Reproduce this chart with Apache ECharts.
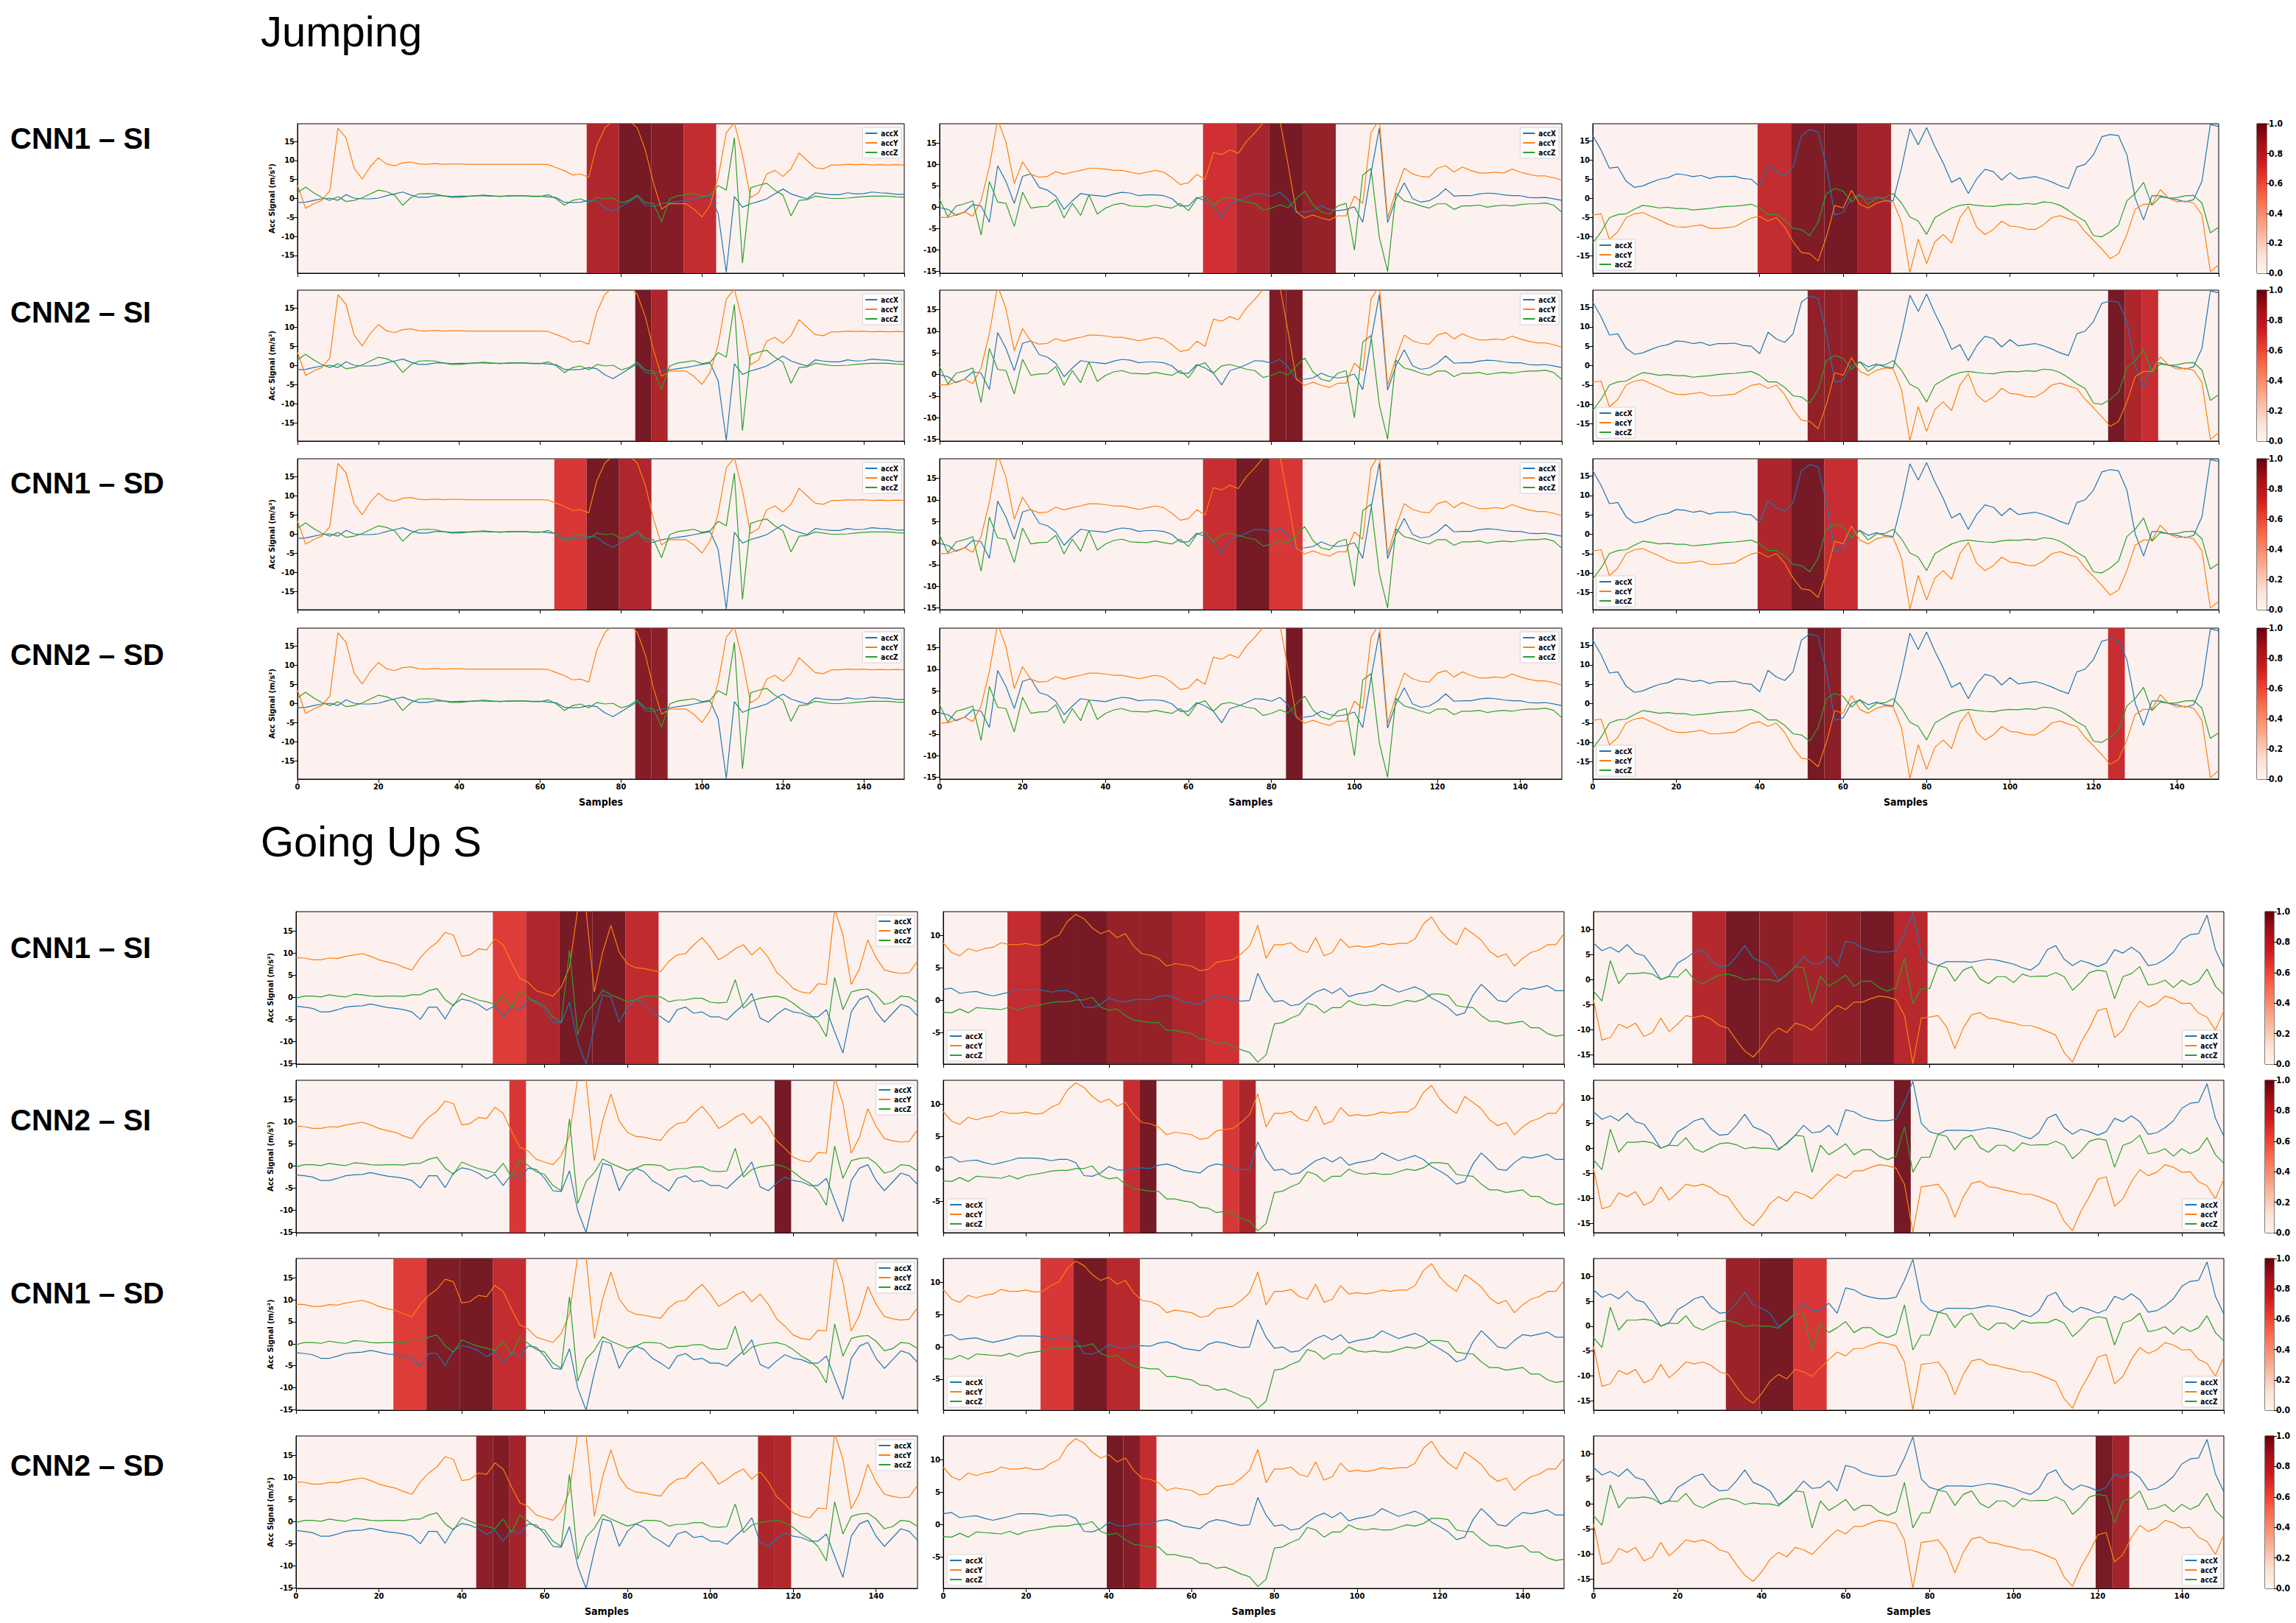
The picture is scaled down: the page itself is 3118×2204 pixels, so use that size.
<!DOCTYPE html>
<html>
<head>
<meta charset="utf-8">
<script src="https://cdn.jsdelivr.net/npm/echarts@6/dist/echarts.min.js"></script>
<style>
html, body { margin: 0; padding: 0; background: #fff; }
#chart { width: 3118px; height: 2204px; }
</style>
</head>
<body>
<div id="chart"></div>
<script>
// samples are read every 2nd index, 0..150
var SAMPLE_STEP = 2;
var channels = ['accX', 'accY', 'accZ'];
var activityTitles = ['Jumping', 'Going Up S'];
var rowLabels = ['CNN1 – SI', 'CNN2 – SI', 'CNN1 – SD', 'CNN2 – SD'];
var colorbarTicks = [0, 0.2, 0.4, 0.6, 0.8, 1.0];

// ---- Jumping, window 1
var jump1AccX = [-1.1,-1.0,-0.5,-0.1,0.1,-0.5,1.0,0.1,-0.1,-0.1,
  0.1,0.7,1.2,1.7,0.9,0.3,0.3,0.7,0.7,0.5,
  0.6,0.6,0.7,0.7,0.6,0.6,0.6,0.7,0.7,0.6,
  0.6,0.4,0.2,-1.0,-1.1,-1.0,-0.5,-0.8,-2.4,-3.4,
  -2.1,-0.8,0.5,-1.8,-2.1,-1.4,-1.1,-0.8,-0.5,-0.1,
  0.3,0.7,-4.0,-19.5,0.5,-2.3,-1.4,-0.8,-0.1,1.2,
  2.5,1.2,0.5,-0.1,1.5,1.2,1.0,1.0,1.5,1.2,
  1.3,1.7,1.5,1.4,1.1,1.1];
var jump1AccY = [3.5,-2.6,-1.4,-0.5,2.0,18.5,16.0,8.0,5.1,8.4,
  10.7,9.1,8.6,9.4,9.6,9.1,9.0,9.2,9.0,9.1,
  9.1,9.0,9.0,9.0,9.0,9.0,9.0,9.0,9.0,9.0,
  9.0,8.9,8.1,7.3,6.2,6.4,5.6,14.0,18.6,20.5,
  21.5,20.5,18.6,12.7,4.1,-2.8,-1.4,-1.4,-1.4,-2.8,
  -4.9,-1.8,5.5,17.3,20.0,11.4,0.2,1.5,6.4,7.4,
  5.8,7.8,12.0,10.0,8.1,7.8,8.8,8.8,9.0,8.9,
  9.0,8.8,8.9,8.8,8.9,8.8];
var jump1AccZ = [1.5,3.0,1.5,0.3,-0.5,0.5,-0.8,-0.5,0.2,1.2,
  2.2,1.8,0.9,-1.8,0.2,1.2,1.3,1.2,0.7,0.3,
  0.3,0.5,0.7,0.9,0.7,0.5,0.7,0.7,0.7,0.5,
  0.5,1.0,-0.1,-1.8,-0.5,-0.1,-1.1,0.3,-0.1,0.1,
  -1.1,-0.5,0.9,-1.1,-1.4,-6.1,-0.1,0.7,1.0,1.3,
  0.5,0.9,3.4,2.2,16.0,-17.0,2.8,3.5,4.0,2.2,
  0.9,-4.6,-0.5,-0.3,0.6,0.3,0.0,0.0,0.1,0.3,
  0.5,0.6,0.6,0.6,0.4,0.3];

// ---- Jumping, window 2
var jump2AccX = [-0.1,-0.5,-1.9,-1.1,0.6,0.3,-3.5,9.7,6.0,0.9,
  7.2,7.8,4.6,4.0,2.6,-0.5,1.5,3.2,2.9,2.7,
  2.5,3.1,3.5,3.3,2.7,2.9,2.9,2.7,2.0,0.3,
  0.3,2.3,1.5,0.3,-2.4,0.9,1.5,2.3,3.2,3.1,
  2.6,3.5,1.8,-1.1,-1.1,-0.8,0.3,-0.5,-0.8,-0.5,
  0.1,-3.5,8.0,18.5,-3.6,2.0,5.7,2.0,1.2,1.5,
  2.6,4.3,2.6,2.7,2.7,3.1,3.3,3.2,2.9,2.7,
  2.7,2.3,2.2,2.3,2.0,1.6];
var jump2AccY = [-2.4,-2.4,-1.7,-1.1,-2.1,1.5,9.5,20.5,15.2,5.5,
  10.6,7.7,7.0,7.2,8.3,7.7,8.2,8.6,9.1,9.1,
  8.9,8.6,8.6,8.2,7.8,8.2,8.6,8.2,6.9,5.3,
  5.7,7.7,6.5,12.8,12.3,13.4,12.6,15.4,17.4,19.7,
  21.0,20.5,10.0,-1.1,-2.5,-1.8,-2.5,-3.0,-2.0,-2.0,
  2.6,0.9,17.4,20.5,-2.5,3.8,9.1,7.8,7.2,7.0,
  9.1,9.7,8.2,9.4,8.6,8.0,8.0,8.2,8.0,8.9,
  8.2,7.7,7.3,7.3,6.9,6.3];
var jump2AccZ = [1.8,-2.2,0.3,0.8,1.5,-6.5,6.0,1.2,0.9,-4.5,
  3.5,-0.2,0.1,0.2,1.8,-2.5,0.9,-1.9,2.9,-1.6,
  -0.2,0.6,0.9,0.3,0.2,0.1,0.5,0.1,-0.2,0.9,
  -0.8,2.0,2.7,0.3,2.0,2.3,1.8,1.2,0.9,-0.7,
  -0.2,0.6,-0.1,2.0,3.8,0.6,-1.1,-1.6,0.3,0.9,
  -10.0,7.5,9.0,-7.0,-15.0,3.3,1.5,1.0,0.3,-0.2,
  0.8,0.8,-0.5,0.3,0.3,0.5,0.0,0.3,0.5,0.3,
  0.6,0.8,0.8,1.0,0.5,-1.2];

// ---- Jumping, window 3
var jump3AccX = [16.4,12.6,7.9,8.2,4.5,2.9,3.3,4.2,5.0,5.4,
  6.4,6.2,5.7,6.0,5.2,5.7,5.7,5.8,5.2,5.0,
  3.1,8.6,6.9,6.0,8.2,16.4,18.0,17.4,8.2,-4.3,
  -3.7,0.1,1.0,-0.3,0.4,-0.3,-0.6,8.0,18.2,14.0,
  18.5,13.5,9.2,4.2,5.4,1.3,5.1,7.6,7.0,4.8,
  6.7,5.1,5.4,5.7,5.1,4.3,3.3,2.6,8.2,8.9,
  11.4,16.1,16.7,16.4,11.4,0.1,-5.6,0.7,0.7,0.1,
  -0.3,-0.9,-0.3,4.5,19.3,18.8];
var jump3AccY = [-4.3,-4.0,-10.7,-8.7,-5.0,-4.0,-3.7,-4.7,-5.6,-6.7,
  -7.4,-7.5,-7.2,-6.9,-7.8,-7.8,-7.6,-7.4,-6.2,-5.1,
  -4.7,-5.9,-5.0,-7.5,-11.3,-14.1,-14.4,-16.3,-10.0,-1.8,
  -2.5,2.1,-1.5,-2.5,-1.2,-0.6,-0.9,-6.2,-19.4,-10.6,
  -17.0,-11.3,-9.4,-11.6,-5.0,-2.1,-7.5,-9.4,-8.1,-5.9,
  -7.2,-7.4,-8.0,-8.1,-6.9,-5.0,-4.5,-5.3,-5.9,-8.7,
  -10.9,-13.2,-15.7,-14.4,-9.4,-2.8,-1.5,-1.5,2.3,0.1,
  -0.9,-0.7,-1.2,-4.3,-19.1,-17.3];
var jump3AccZ = [-11.6,-8.7,-5.0,-4.2,-4.0,-2.8,-1.8,-2.1,-2.5,-2.3,
  -2.6,-2.6,-3.0,-2.8,-2.6,-2.3,-2.1,-2.0,-1.8,-1.5,
  -2.5,-4.2,-4.2,-5.6,-7.8,-8.1,-9.7,-6.2,1.3,2.6,
  1.9,-0.9,1.0,-1.5,0.1,0.2,1.3,-1.2,-4.8,-5.9,
  -9.4,-5.0,-3.7,-2.5,-1.8,-1.5,-1.8,-2.0,-2.1,-1.7,
  -1.5,-1.6,-1.3,-1.5,-0.9,-1.1,-1.8,-3.1,-4.7,-5.9,
  -9.7,-10.0,-8.7,-6.9,-0.6,1.3,4.2,-1.8,0.4,0.1,
  0.2,0.7,0.8,-1.2,-9.0,-7.5];

// ---- Going up stairs, window 1
var up1AccX = [-2.0,-2.2,-2.5,-3.3,-3.3,-2.8,-2.2,-2.0,-1.9,-1.5,
  -1.9,-2.3,-2.5,-2.8,-3.3,-5.0,-2.2,-2.2,-4.9,-1.6,
  -0.4,-0.8,-1.6,-2.9,-1.9,-4.4,-1.9,-2.8,-0.5,-0.8,
  -2.8,-5.6,-5.8,-1.1,-10.1,-15.1,-6.7,0.6,0.1,-5.6,
  -2.2,-0.5,-1.3,-3.3,-4.4,-5.7,-2.8,-2.2,-3.6,-3.3,
  -4.4,-4.4,-5.1,-3.3,-1.6,0.9,-4.7,-5.6,-3.9,-2.5,
  -3.3,-3.6,-4.4,-4.4,-2.8,-7.8,-12.6,-3.3,-0.5,0.3,
  -3.3,-5.6,-3.6,-1.6,-2.2,-4.2];
var up1AccY = [9.0,8.9,8.5,8.5,8.9,8.8,9.3,9.6,9.9,9.3,
  8.5,8.0,7.6,6.8,6.2,9.0,11.0,12.4,14.7,14.1,
  9.3,9.6,11.0,10.7,13.3,11.9,7.9,4.3,3.4,1.5,
  0.9,0.3,2.3,6.8,20.0,19.8,1.2,10.2,16.3,10.2,
  7.6,6.7,6.5,6.1,5.8,8.2,9.6,9.9,11.9,13.5,
  11.3,8.5,9.6,11.0,11.9,9.6,11.3,9.0,5.7,4.0,
  2.0,1.2,0.9,3.1,2.9,20.0,14.1,2.9,6.5,13.0,
  9.0,6.2,5.7,5.4,5.6,8.2];
var up1AccZ = [-0.2,0.3,0.3,0.1,0.6,0.3,0.1,0.7,0.6,0.3,
  0.2,0.3,0.3,0.2,0.6,0.6,1.5,2.0,-0.5,-1.9,
  0.9,0.1,-0.6,-1.0,-1.6,0.6,-2.5,1.5,0.1,-1.3,
  -1.9,-4.4,-5.6,10.7,-8.5,-3.5,-1.5,1.6,0.6,-0.2,
  -1.0,-0.5,0.3,0.3,0.1,-1.0,-0.6,-0.6,-0.2,-0.2,
  -1.1,-1.3,-1.1,4.0,-2.5,-0.8,-0.2,0.1,0.3,-0.2,
  -1.3,-2.8,-3.9,-5.6,-8.9,4.5,-2.8,1.2,1.7,1.9,
  0.6,-1.6,-1.1,0.3,0.1,-1.1];

// ---- Going up stairs, window 2
var up2AccX = [1.7,1.9,1.1,1.3,1.4,1.0,0.7,1.0,1.3,1.7,
  1.7,1.7,1.6,1.3,1.5,1.5,1.0,-1.0,-1.1,-0.6,
  0.4,-0.1,-0.2,0.1,0.2,0.1,0.6,0.8,0.4,-0.2,
  -0.4,-0.6,0.4,0.8,0.6,0.2,-0.1,0.0,4.2,1.5,
  -0.2,0.0,-0.8,-0.6,0.4,1.3,1.8,1.1,1.9,0.6,
  1.0,1.2,1.5,2.5,1.9,1.3,1.7,2.1,1.5,0.4,
  -0.3,-1.1,-2.3,-1.9,0.8,2.5,1.3,0.0,-0.2,1.0,
  1.9,1.7,2.0,2.3,1.5,1.5];
var up2AccY = [8.9,7.4,6.9,8.0,7.6,8.0,8.2,8.9,8.6,8.6,
  8.8,8.5,8.6,9.5,10.1,12.2,13.3,12.6,11.2,10.3,
  10.8,9.7,10.3,8.4,7.2,7.0,6.5,5.3,5.7,5.5,
  5.3,4.6,4.8,5.9,6.1,6.3,7.2,8.4,11.6,6.5,
  8.6,8.6,8.9,7.8,7.4,9.7,6.9,7.4,9.5,8.2,
  8.4,8.2,8.4,8.8,8.6,8.8,8.8,9.5,11.8,12.9,
  10.8,9.5,8.6,11.2,10.3,9.3,7.6,6.7,7.2,5.3,
  6.5,7.4,7.8,8.6,8.6,10.3];
var up2AccZ = [-1.8,-1.9,-1.3,-1.9,-1.1,-1.2,-1.3,-1.4,-1.0,-1.5,
  -1.0,-0.8,-0.6,-0.3,-0.2,-0.2,0.1,0.1,0.5,-1.0,
  -1.5,-1.3,-2.3,-3.0,-3.2,-3.4,-3.4,-4.6,-4.6,-4.9,
  -5.1,-5.9,-6.0,-6.7,-6.5,-7.0,-7.6,-8.0,-9.5,-8.4,
  -3.6,-3.4,-2.7,-2.2,-0.4,-0.8,-1.9,-1.1,-1.1,0.0,
  -0.6,-0.8,-0.6,-0.8,-0.8,-0.4,0.0,-0.2,0.2,1.0,
  1.0,0.8,-0.8,-1.0,-1.1,-2.3,-3.2,-3.2,-3.6,-3.4,
  -3.2,-4.2,-4.2,-5.1,-5.5,-5.3];

// ---- Going up stairs, window 3
var up3AccX = [7.3,5.8,6.5,5.5,7.0,5.3,4.8,2.6,0.0,0.7,
  3.3,4.3,5.5,6.0,3.8,2.6,2.8,4.6,6.8,4.3,
  3.6,2.6,-0.1,0.9,2.6,4.6,3.1,3.3,4.6,2.6,
  7.7,7.3,6.3,5.8,5.5,5.5,5.8,9.2,13.4,5.0,
  3.3,2.8,3.6,3.6,3.6,3.5,3.8,4.1,3.9,3.5,
  3.1,2.4,1.9,3.1,6.0,6.8,4.1,2.8,3.8,3.3,
  2.6,3.3,6.0,5.3,6.5,5.3,2.8,3.1,4.1,5.5,
  8.0,9.0,9.2,12.9,6.0,2.4];
var up3AccY = [-4.0,-12.1,-11.6,-8.9,-9.7,-8.7,-11.4,-10.6,-7.7,-10.4,
  -8.9,-7.2,-7.6,-7.2,-7.9,-9.2,-9.7,-12.1,-14.3,-15.5,
  -13.6,-11.1,-9.7,-10.6,-8.7,-9.2,-10.1,-8.4,-6.7,-5.2,
  -6.0,-4.5,-4.5,-3.8,-3.3,-3.5,-4.0,-7.2,-16.8,-7.7,
  -7.5,-7.2,-9.4,-13.8,-9.7,-7.0,-6.6,-7.7,-7.9,-8.4,
  -8.7,-9.2,-9.2,-9.7,-10.4,-11.1,-14.6,-16.5,-12.6,-9.7,
  -6.2,-5.7,-11.6,-10.1,-6.7,-4.3,-5.5,-4.8,-3.3,-3.8,
  -4.8,-4.7,-6.7,-7.5,-10.1,-6.2];
var up3AccZ = [-2.3,-4.3,3.8,-0.8,1.2,1.2,1.4,1.1,0.0,0.6,
  0.5,2.1,-0.1,-0.8,0.1,0.9,1.1,0.7,-0.1,0.2,
  0.0,0.0,-0.4,1.1,2.6,2.4,-4.8,0.6,-1.3,-0.3,
  0.9,-1.3,-0.3,-0.3,-1.6,-2.3,-1.6,4.3,-4.8,-1.8,
  -1.8,2.8,2.4,-0.3,1.9,2.6,0.1,-0.8,0.6,0.6,
  -0.6,1.1,0.6,0.7,0.7,1.4,0.6,-2.1,-0.6,1.4,
  1.9,1.6,-3.8,0.6,1.2,2.6,-1.1,-0.8,-0.1,-1.6,
  -0.1,-1.1,-0.3,2.1,-1.3,-3.0];

// attention windows per row, one list per column: [fromSample, toSample, weight]
var jumpAttCnn1Si = [
  [[71.5,79.5,0.87],[79.5,87.5,1.0],[87.5,95.5,0.97],[95.5,103.5,0.8]],
  [[63.5,71.5,0.75],[71.5,79.5,0.89],[79.5,87.5,1.0],[87.5,95.5,0.93]],
  [[39.5,47.5,0.8],[47.5,55.5,0.98],[55.5,63.5,1.0],[63.5,71.5,0.9]]
];
var jumpAttCnn2Si = [
  [[83.5,87.5,1.0],[87.5,91.5,0.88]],
  [[79.5,83.5,0.98],[83.5,87.5,0.98]],
  [[51.5,55.5,0.94],[55.5,59.5,0.94],[59.5,63.5,0.94],[123.5,127.5,1.0],[127.5,131.5,0.88],[131.5,135.5,0.78]]
];
var jumpAttCnn1Sd = [
  [[63.5,71.5,0.72],[71.5,79.5,1.0],[79.5,87.5,0.87]],
  [[63.5,71.5,0.78],[71.5,79.5,1.0],[79.5,87.5,0.72]],
  [[39.5,47.5,0.88],[47.5,55.5,1.0],[55.5,63.5,0.78]]
];
var jumpAttCnn2Sd = [
  [[83.5,87.5,0.97],[87.5,91.5,0.95]],
  [[83.5,87.5,1.0]],
  [[51.5,55.5,1.0],[55.5,59.5,0.95],[123.5,127.5,0.78]]
];
var upAttCnn1Si = [
  [[47.5,55.5,0.7],[55.5,63.5,0.87],[63.5,71.5,1.0],[71.5,79.5,1.0],[79.5,87.5,0.81]],
  [[15.5,23.5,0.8],[23.5,31.5,1.0],[31.5,39.5,1.0],[39.5,47.5,0.93],[47.5,55.5,0.93],[55.5,63.5,0.87],[63.5,71.5,0.75]],
  [[23.5,31.5,0.85],[31.5,39.5,1.0],[39.5,47.5,0.95],[47.5,55.5,0.9],[55.5,63.5,0.95],[63.5,71.5,1.0],[71.5,79.5,0.84]]
];
var upAttCnn2Si = [
  [[51.5,55.5,0.72],[115.5,119.5,1.0]],
  [[43.5,47.5,0.78],[47.5,51.5,1.0],[67.5,71.5,0.72],[71.5,75.5,0.88]],
  [[71.5,75.5,1.0]]
];
var upAttCnn1Sd = [
  [[23.5,31.5,0.7],[31.5,39.5,0.98],[39.5,47.5,1.0],[47.5,55.5,0.8]],
  [[23.5,31.5,0.72],[31.5,39.5,1.0],[39.5,47.5,0.84]],
  [[31.5,39.5,0.92],[39.5,47.5,1.0],[47.5,55.5,0.72]]
];
var upAttCnn2Sd = [
  [[43.5,47.5,0.95],[47.5,51.5,0.98],[51.5,55.5,0.9],[111.5,115.5,0.88],[115.5,119.5,0.86]],
  [[39.5,43.5,1.0],[43.5,47.5,0.97],[47.5,51.5,0.8]],
  [[119.5,123.5,1.0],[123.5,127.5,0.9]]
];

// ---------------- layout and style ----------------
var LINE_COLORS = ['#1f77b4', '#ff7f0e', '#2ca02c'];
var PANEL_BG = '#fcf1ee';
var TICK_FONT = '"DejaVu Sans Condensed", "Liberation Sans Narrow", "DejaVu Sans", sans-serif';
var LABEL_FONT = '"Liberation Sans", Arial, sans-serif';
var REDS = [[255,245,240],[254,224,210],[252,187,161],[252,146,114],[251,106,74],
            [239,59,44],[203,24,29],[165,15,21],[103,0,13]];

function reds(v) {
  var t = Math.max(0, Math.min(1, v)) * 8;
  var i = Math.min(7, Math.floor(t)), f = t - i;
  return REDS[i].map(function (c, k) { return c + (REDS[i + 1][k] - c) * f; });
}
function shade(v) {
  // heat map drawn at alpha 0.9 over white
  return 'rgb(' + reds(v).map(function (c) { return Math.round(0.9 * c + 25.5); }).join(',') + ')';
}
function toPoints(values) {
  return values.map(function (v, i) { return [i * SAMPLE_STEP, v]; });
}

var activities = [
  {
    title: activityTitles[0], titleY: 42,
    signals: [[jump1AccX, jump1AccY, jump1AccZ], [jump2AccX, jump2AccY, jump2AccZ], [jump3AccX, jump3AccY, jump3AccZ]],
    attention: [jumpAttCnn1Si, jumpAttCnn2Si, jumpAttCnn1Sd, jumpAttCnn2Sd],
    cols: [[404, 1228], [1276, 2121], [2163, 3013]],
    rows: [[168, 371], [394, 599], [623, 828], [853, 1058]],
    labelY: [188, 424, 656, 889],
    yRange: [[-19.7, 19.7], [-15.4, 19.5], [-19.5, 19.5]],
    legendAt: ['tr', 'tr', 'bl'],
    cbar: [3065, 13]
  },
  {
    title: activityTitles[1], titleY: 1142,
    signals: [[up1AccX, up1AccY, up1AccZ], [up2AccX, up2AccY, up2AccZ], [up3AccX, up3AccY, up3AccZ]],
    attention: [upAttCnn1Si, upAttCnn2Si, upAttCnn1Sd, upAttCnn2Sd],
    cols: [[402, 1246], [1281, 2124], [2164, 3020]],
    rows: [[1238, 1445], [1467, 1674], [1709, 1915], [1950, 2157]],
    labelY: [1287, 1521, 1756, 1990],
    yRange: [[-15.1, 19.4], [-9.8, 13.7], [-16.9, 13.6]],
    legendAt: ['tr', 'bl', 'br'],
    cbar: [3076, 12]
  }
];

var W = 3118, H = 2204;
var grid = [], xAxis = [], yAxis = [], series = [], legend = [], graphic = [];
var tickText = { color: '#000', fontSize: 11, fontWeight: 'bold', fontFamily: TICK_FONT };
var axisLine = { show: true, onZero: false, lineStyle: { color: '#000', width: 1 } };

activities.forEach(function (act) {
  graphic.push({ type: 'text', x: 354, y: act.titleY, silent: true,
    style: { text: act.title, font: '58px ' + LABEL_FONT, fill: '#000', verticalAlign: 'middle' } });

  act.attention.forEach(function (rowAtt, r) {
    var top = act.rows[r][0], height = act.rows[r][1] - act.rows[r][0];
    graphic.push({ type: 'text', x: 14, y: act.labelY[r], silent: true,
      style: { text: rowLabels[r], font: 'bold 40px ' + LABEL_FONT, fill: '#000', verticalAlign: 'middle' } });

    for (var c = 0; c < 3; c++) {
      var gi = grid.length;
      var left = act.cols[c][0], width = act.cols[c][1] - act.cols[c][0];
      grid.push({ left: left, top: top, width: width, height: height, show: true,
        backgroundColor: PANEL_BG, borderColor: '#000', borderWidth: 1 });
      xAxis.push({ gridIndex: gi, type: 'value', min: 0, max: 150, interval: 20,
        axisLine: axisLine, splitLine: { show: false },
        axisTick: { show: true, length: 5, lineStyle: { color: '#000' } },
        axisLabel: Object.assign({ show: r === 3, showMaxLabel: false, margin: 5 }, tickText),
        name: r === 3 ? 'Samples' : '', nameLocation: 'middle', nameGap: 24,
        nameTextStyle: { color: '#000', fontSize: 14, fontWeight: 'bold', fontFamily: TICK_FONT } });
      yAxis.push({ gridIndex: gi, type: 'value', min: act.yRange[c][0], max: act.yRange[c][1],
        splitNumber: 8, minInterval: 5, maxInterval: 5,
        axisLine: axisLine, splitLine: { show: false },
        axisTick: { show: true, length: 5, lineStyle: { color: '#000' } },
        axisLabel: Object.assign({ showMinLabel: false, showMaxLabel: false, margin: 4 }, tickText),
        name: c === 0 ? 'Acc Signal (m/s²)' : '', nameLocation: 'middle', nameGap: 30, nameRotate: 90,
        nameTextStyle: { color: '#000', fontSize: 10, fontWeight: 'bold', fontFamily: '"DejaVu Sans", sans-serif' } });

      // attention heat strip behind the signals
      series.push({ type: 'line', name: 'attention', xAxisIndex: gi, yAxisIndex: gi, data: [], z: 1,
        silent: true, animation: false,
        markArea: { silent: true, animation: false,
          data: rowAtt[c].map(function (w) {
            return [{ xAxis: w[0], itemStyle: { color: shade(w[2]) } }, { xAxis: w[1] }];
          }) } });
      act.signals[c].forEach(function (vals, k) {
        series.push({ type: 'line', name: channels[k], xAxisIndex: gi, yAxisIndex: gi,
          data: toPoints(vals), showSymbol: false, symbol: 'none', z: 2, silent: true, animation: false,
          lineStyle: { width: 1.2, color: LINE_COLORS[k] }, itemStyle: { color: LINE_COLORS[k] } });
      });

      var lg = { data: channels, orient: 'vertical', icon: 'rect', itemWidth: 16, itemHeight: 2, itemGap: 3,
        padding: [3, 4], backgroundColor: 'rgba(255,255,255,0.85)', borderColor: '#d4d4d4', borderWidth: 1,
        borderRadius: 2, selectedMode: false,
        textStyle: { color: '#000', fontSize: 10, fontWeight: 'bold', fontFamily: TICK_FONT } };
      var pos = act.legendAt[c];
      if (pos[0] === 't') lg.top = top + 5; else lg.bottom = H - (top + height) + 4;
      if (pos[1] === 'r') lg.right = W - (left + width) + 4; else lg.left = left + 5;
      legend.push(lg);
    }

    // colour bar for this row
    var cb = grid.length;
    grid.push({ left: act.cbar[0], top: top, width: act.cbar[1], height: height, show: true,
      borderColor: '#000', borderWidth: 1, backgroundColor: 'transparent' });
    xAxis.push({ gridIndex: cb, type: 'category', data: ['w'], show: false });
    yAxis.push({ gridIndex: cb, type: 'value', min: 0, max: 1, interval: colorbarTicks[1] - colorbarTicks[0],
      position: 'right', axisLine: { show: false }, splitLine: { show: false },
      axisTick: { show: true, length: 4, lineStyle: { color: '#000' } },
      axisLabel: Object.assign({ margin: 3, formatter: function (v) { return v.toFixed(1); } }, tickText, { fontSize: 12 }) });
    series.push({ type: 'bar', xAxisIndex: cb, yAxisIndex: cb, data: [1], barWidth: '100%', silent: true,
      animation: false,
      itemStyle: { color: new echarts.graphic.LinearGradient(0, 1, 0, 0, REDS.map(function (c, k) {
        return { offset: k / 8, color: 'rgb(' + c.join(',') + ')' };
      })) } });
  });
});

var chart = echarts.init(document.getElementById('chart'), null, { renderer: 'svg' });
chart.setOption({
  backgroundColor: '#fff',
  animation: false,
  grid: grid, xAxis: xAxis, yAxis: yAxis, series: series, legend: legend, graphic: graphic
});
</script>
</body>
</html>
